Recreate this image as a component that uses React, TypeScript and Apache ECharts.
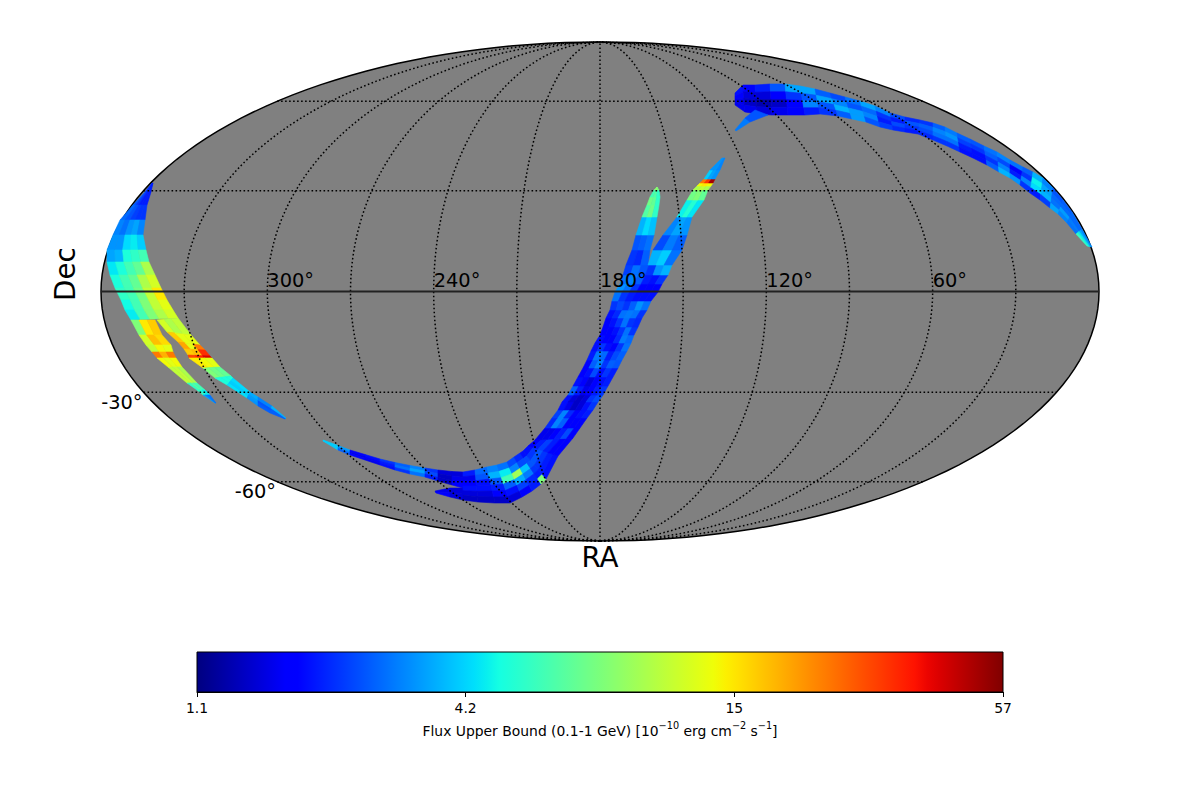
import React, { useEffect, useRef } from "react";
import * as echarts from "echarts";

const FONT = "DejaVu Sans";

// Ribbons: each section is [x1, y1, x2, y2, flux per band...], in map-frame units (picture frame of the sky map)
const northArc: number[][] = [
  [735, 93, 735, 105, 1.9, 1.7, 1.6, 1.6],
  [743, 85, 745, 112, 1.8, 1.5, 1.4, 1.6],
  [755, 85, 757, 114, 2.0, 1.5, 1.3, 1.5],
  [770, 84, 772, 115, 2.5, 1.8, 1.4, 1.6],
  [785, 84, 788, 115, 3.4, 2.2, 1.7, 1.8],
  [800, 86, 805, 115, 3.4, 2.5, 3.0, 2.0],
  [815, 89, 820, 114, 2.6, 3.4, 2.5, 2.2],
  [830, 93, 838, 116, 2.4, 3.0, 3.6, 2.6],
  [845, 97, 852, 119, 2.8, 2.5, 3.3, 3.3],
  [860, 101, 866, 122, 3.4, 2.7, 3.0, 2.5],
  [875, 106, 880, 127, 3.0, 2.2, 2.0, 2.3],
  [890, 113, 893, 130, 2.4, 2.0, 2.4, 2.1],
  [905, 117, 905, 132, 2.1, 2.5, 2.2, 2.0],
  [920, 120, 918, 134, 2.2, 2.6, 2.4, 2.1],
  [933, 123, 933, 140, 2.6, 3.0, 2.8, 2.2],
  [945, 127, 947, 146, 2.9, 3.2, 2.8, 2.2],
  [957, 133, 960, 152, 2.6, 2.3, 2.0, 1.9],
  [970, 139, 973, 158, 2.5, 2.2, 1.9, 1.9],
  [984, 146, 987, 165, 2.8, 2.6, 2.2, 2.6],
  [997, 152, 999, 172, 3.0, 2.4, 3.0, 3.6],
  [1010, 160, 1010, 178, 2.8, 1.8, 2.0, 3.2],
  [1023, 167, 1020, 185, 2.6, 2.2, 3.0, 2.2],
  [1033, 172, 1030, 193, 3.6, 4.6, 4.2, 2.0],
  [1043, 178, 1040, 200, 3.0, 3.4, 3.6, 2.3],
  [1053, 188, 1050, 208, 2.5, 2.7, 2.8, 3.4],
  [1063, 200, 1058, 214, 2.6, 2.7, 3.3, 3.0],
  [1072, 212, 1067, 223, 2.7, 2.7, 2.9, 2.8],
  [1082, 229, 1076, 234, 3.0, 3.5, 4.5, 5.5],
  [1092, 247, 1087, 246],
];
const northSpur: number[][] = [
  [735, 130, 736, 131, 2.9],
  [745, 118, 750, 122, 2.5],
  [755, 110, 768, 115],
];
const southTail: number[][] = [
  [323, 440, 323, 441, 4.0, 4.0, 4.0],
  [338, 445.5, 338, 450, 3.4, 3.0, 2.6],
  [350, 450, 350, 455, 1.7, 1.6, 1.7],
  [365, 454.5, 365, 460, 1.9, 1.7, 1.6],
  [380, 459, 380, 465, 2.2, 2.0, 1.9],
  [395, 462.5, 395, 470, 2.6, 2.8, 2.2],
  [410, 465.5, 410, 474, 3.0, 3.4, 2.8],
  [425, 468, 425, 477, 2.2, 2.4, 2.0],
  [438, 470, 438, 481, 1.5, 1.4, 1.4],
  [452, 471.5, 452, 485, 1.5, 1.6, 1.7],
  [463, 472, 463, 488],
];
const southProng: number[][] = [
  [435, 491, 436, 493, 1.6, 1.7],
  [450, 488, 450, 497, 1.5, 1.5],
  [463, 488, 463, 500],
];
const mainStrip: number[][] = [
  [463, 472, 463, 500, 2.0, 1.6, 1.7, 1.9, 1.5, 1.4],
  [475, 470, 478, 502, 2.7, 2.5, 1.9, 1.9, 1.5, 1.4],
  [487, 467, 495, 503, 3.0, 3.6, 2.5, 2.0, 1.7, 1.4],
  [497, 465, 510, 503, 2.8, 4.5, 6.0, 2.6, 1.9, 1.5],
  [507, 462, 522, 497, 2.4, 3.0, 9.5, 3.5, 2.3, 1.7],
  [514, 457, 532, 491, 2.1, 2.4, 3.8, 2.9, 2.1, 2.0],
  [520, 453, 541, 484, 1.9, 2.4, 2.5, 2.2, 2.0, 8.0],
  [523, 451, 546, 479, 1.9, 2.2, 2.5, 2.2, 2.0, 1.9],
  [528, 446, 558, 456, 1.7, 2.0, 2.3, 2.0, 1.7, 1.7],
  [535, 440, 573, 438, 1.6, 1.6, 1.8, 2.0, 2.4, 1.8],
  [545, 428, 580, 428, 2.1, 3.0, 2.6, 1.8, 1.7, 1.8],
  [552, 418, 587, 418, 2.3, 3.0, 2.1, 1.7, 1.9, 2.0],
  [558, 410, 593, 410, 1.9, 1.6, 1.4, 1.5, 1.9, 2.2],
  [562, 402, 598, 402, 1.9, 1.5, 1.4, 1.5, 2.2, 2.4],
  [568, 395, 603, 395, 2.6, 2.0, 1.6, 1.7, 2.0, 2.2],
  [573, 386, 608, 386, 1.9, 1.7, 1.5, 1.7, 1.9, 2.0],
  [578, 377, 613, 377, 1.8, 1.9, 2.4, 1.9, 2.2, 2.0],
  [583, 368, 618, 368, 1.8, 2.6, 3.0, 2.2, 2.6, 2.5],
  [587, 360, 622, 360, 2.0, 2.9, 2.7, 2.0, 2.4, 2.6],
  [591, 351, 627, 351, 1.9, 2.2, 1.9, 1.8, 2.2, 2.8],
  [595, 343, 631, 343, 1.9, 1.8, 1.8, 2.1, 2.9, 2.7],
  [600, 335, 634, 335, 1.8, 1.8, 1.9, 2.2, 2.8, 2.2],
  [603, 327, 638, 327, 1.8, 1.9, 2.2, 2.8, 2.2, 2.1],
  [606, 318, 642, 318, 1.9, 2.1, 2.8, 2.9, 2.8, 2.2],
  [610, 310, 647, 310, 2.2, 2.4, 2.2, 2.6, 3.2, 2.8],
  [612, 301, 651, 301, 2.8, 2.2, 2.0, 1.9, 1.9, 1.9],
  [615, 292, 658, 292, 3.2, 2.8, 2.2, 1.8, 1.7, 1.7],
  [620, 284, 662, 284, 2.8, 3.0, 2.6, 2.0, 1.9, 2.2],
  [623, 275, 668, 275, 2.3, 2.8, 2.5, 2.2, 3.2, 3.6],
  [626, 265, 672, 265],
];
const leftFork: number[][] = [
  [626, 265, 648, 265, 2.2, 2.1, 2.6],
  [632, 250, 650, 250, 2.5, 2.6, 2.8],
  [636, 235, 654, 235, 3.6, 4.2, 3.8],
  [642, 217, 657, 217, 6.5, 7.5, 5.5],
  [647, 205, 659, 205, 7.5, 7.0, 5.5],
  [650, 197, 660, 197, 6.0, 6.5, 5.5],
  [654, 190, 659, 190, 8.0, 9.0, 8.0],
  [657, 187, 657, 187],
];
const rightFork: number[][] = [
  [648, 265, 672, 265, 3.6, 4.0, 2.8],
  [653, 250, 682, 250, 2.4, 2.9, 2.6],
  [663, 235, 687, 235, 3.0, 3.4, 3.2],
  [677, 217, 692, 217, 4.6, 5.2, 4.4],
  [687, 200, 704, 200, 7.5, 8.0, 7.0],
  [693, 190, 708, 190, 10, 11, 10],
  [697, 186, 711, 186, 14, 15, 14],
  [700, 183, 713, 183, 24, 32, 50],
  [704, 179, 715, 179, 4.0, 3.4, 3.2],
  [710, 170, 720, 170, 3.2, 3.2, 3.0],
  [722, 158, 725, 158],
];
const westStrip: number[][] = [
  [152, 183, 153, 183, 2.2, 2.2, 2.1, 2.0, 2.0],
  [145, 192, 151, 192, 2.5, 2.2, 2.0, 2.0, 2.0],
  [133, 205, 147, 205, 2.7, 2.5, 2.3, 2.2, 2.2],
  [120, 220, 145, 220, 3.0, 2.8, 3.2, 3.4, 3.0],
  [113, 235, 143, 235, 3.2, 3.2, 4.2, 4.5, 4.0],
  [107, 250, 146, 250, 3.4, 3.6, 5.0, 5.5, 6.0],
  [107, 262, 149, 262, 4.4, 5.0, 6.0, 7.0, 10],
  [110, 275, 155, 275, 5.0, 6.0, 7.0, 10, 12],
  [115, 288, 161, 288, 5.5, 6.0, 7.5, 11, 15],
  [121, 300, 167, 300, 4.8, 6.0, 8.0, 11, 13],
  [125, 310, 173, 310, 4.5, 6.0, 8.0, 10, 12],
  [131, 320, 178, 318],
];
const westLowerProng: number[][] = [
  [131, 320, 155, 320, 8.0, 15, 17],
  [139, 335, 162, 335, 12, 18, 16],
  [146, 345, 171, 345, 11, 14, 13],
  [152, 352, 173, 352, 24, 19, 24],
  [157, 358, 176, 358, 14, 13, 14],
  [168, 367, 182, 367, 11, 11, 10],
  [187, 383, 197, 383, 5.5, 6.5, 6.0],
  [197, 390, 205, 390, 5.5, 5.0, 4.5],
  [203, 395, 210, 395, 3.4, 3.0, 2.8],
  [215, 403, 216, 403],
];
const westUpperProng: number[][] = [
  [157, 320, 178, 318, 12, 10, 11],
  [167, 332, 191, 335, 17, 13, 13],
  [178, 342, 200, 345, 20, 13, 24],
  [184, 349, 205, 350, 17, 18, 33],
  [188, 355, 210, 356, 30, 35, 42],
  [189, 358, 212, 358, 15, 14, 13],
  [203, 368, 220, 367, 8.0, 7.5, 7.0],
  [215, 378, 231, 376, 5.0, 5.0, 5.0],
  [227, 385, 233, 378, 4.3, 4.0, 4.2],
  [247, 398, 250, 392, 3.2, 3.3, 3.5],
  [258, 406, 258, 397, 2.6, 2.5, 3.0],
  [270, 413, 272, 406, 2.6, 2.6, 3.6],
  [285, 419, 286, 418],
];
const ribbons = [northArc, northSpur, southTail, southProng, mainStrip, leftFork, rightFork, westStrip, westLowerProng, westUpperProng];

const raTicks = [300, 240, 180, 120, 60];
const decTicks = [-30, -60];
const meridians = [30, 60, 90, 120, 150, 180, 210, 240, 270, 300, 330];
const parallels = [60, 30, -30, -60];
const colorbarTickLabels = ["1.1", "4.2", "15", "57"];
const fluxMin = 1.1;
const fluxMax = 57;

const CX = 600, CY = 291.5, RX = 499, RY = 249.5;

function project(ra: number, dec: number): [number, number] {
  const phi = (dec * Math.PI) / 180;
  let t = phi;
  if (Math.abs(dec) < 90) {
    for (let i = 0; i < 40; i++) {
      t -= (2 * t + Math.sin(2 * t) - Math.PI * Math.sin(phi)) / (2 + 2 * Math.cos(2 * t));
    }
  }
  return [CX + (RX * (180 - ra) * Math.cos(t)) / 180, CY - RY * Math.sin(t)];
}

function seg(stops: number[][], f: number) {
  for (let i = 1; i < stops.length; i++) {
    if (f <= stops[i][0]) {
      const [a, b] = [stops[i - 1], stops[i]];
      return a[1] + ((b[1] - a[1]) * (f - a[0])) / (b[0] - a[0]);
    }
  }
  return stops[stops.length - 1][1];
}
function jet(f0: number) {
  const f = Math.max(0, Math.min(1, f0));
  const r = seg([[0, 0], [0.35, 0], [0.66, 1], [0.89, 1], [1, 0.5]], f);
  const g = seg([[0, 0], [0.125, 0], [0.375, 1], [0.64, 1], [0.91, 0], [1, 0]], f);
  const b = seg([[0, 0.5], [0.11, 1], [0.34, 1], [0.65, 0], [1, 0]], f);
  return `rgb(${Math.round(r * 255)},${Math.round(g * 255)},${Math.round(b * 255)})`;
}
const fluxColor = (v: number) => jet(Math.log(v / fluxMin) / Math.log(fluxMax / fluxMin));

function buildCells() {
  const cells: number[][] = [];
  for (const r of ribbons) {
    for (let i = 0; i + 1 < r.length; i++) {
      const a = r[i], b = r[i + 1];
      const vals = a.slice(4);
      const n = vals.length;
      vals.forEach((v, j) => {
        const lerp = (s: number[], t: number) => [s[0] + (s[2] - s[0]) * t, s[1] + (s[3] - s[1]) * t];
        const p0 = lerp(a, j / n), p1 = lerp(a, (j + 1) / n), p2 = lerp(b, (j + 1) / n), p3 = lerp(b, j / n);
        cells.push([...p0, ...p1, ...p2, ...p3, v]);
      });
    }
  }
  return cells;
}

function buildGraticule() {
  const lines: { pts: [number, number][]; solid: boolean }[] = [];
  for (const ra of meridians) {
    const pts: [number, number][] = [];
    for (let d = -90; d <= 90; d += 2) pts.push(project(ra, d));
    lines.push({ pts, solid: false });
  }
  for (const d of parallels) lines.push({ pts: [project(360, d), project(0, d)], solid: false });
  lines.push({ pts: [project(360, 0), project(0, 0)], solid: true });
  return lines;
}

function buildOutline() {
  const pts: [number, number][] = [];
  for (let i = 0; i <= 180; i++) {
    const a = (i / 180) * 2 * Math.PI;
    pts.push([CX + RX * Math.cos(a), CY + RY * Math.sin(a)]);
  }
  return pts;
}

export default function App() {
  const ref = useRef<HTMLDivElement>(null);
  useEffect(() => {
    const chart = echarts.init(ref.current!, null, { renderer: "svg" });
    const outline = buildOutline();
    const graticule = buildGraticule();
    const cells = buildCells();
    const stops = Array.from({ length: 65 }, (_, i) => ({ offset: i / 64, color: jet(i / 64) }));

    const labelData = [
      ...raTicks.map((ra) => [...project(ra, 0), 0, ra]),
      ...decTicks.map((d) => [...project(360, d), 1, d]),
    ];

    chart.setOption({
      animation: false,
      backgroundColor: "#ffffff",
      grid: [
        { left: 101, top: 42, width: 998, height: 499, show: false },
        { left: 197, top: 652, width: 806, height: 40, show: true, borderColor: "#000", borderWidth: 1, z: 5 },
      ],
      xAxis: [
        { type: "value", gridIndex: 0, min: 101, max: 1099, show: false },
        {
          type: "value",
          gridIndex: 1,
          min: 0,
          max: 3,
          interval: 1,
          splitLine: { show: false },
          axisLine: { show: true, lineStyle: { color: "#000", width: 1 } },
          axisTick: { show: true, length: 5, lineStyle: { color: "#000", width: 1 } },
          axisLabel: {
            fontFamily: FONT,
            fontSize: 13.9,
            color: "#000",
            margin: 9,
            formatter: (v: number) => colorbarTickLabels[Math.round(v)] ?? "",
          },
          name: "{n|Flux Upper Bound (0.1-1 GeV) [10}{s|−10}{n| erg cm}{s|−2}{n| s}{s|−1}{n|]}",
          nameLocation: "middle",
          nameGap: 28,
          nameTextStyle: {
            rich: {
              n: { fontFamily: FONT, fontSize: 13.9, color: "#000", lineHeight: 18, verticalAlign: "bottom" },
              s: { fontFamily: FONT, fontSize: 9.7, color: "#000", lineHeight: 18, verticalAlign: "top" },
            },
          },
        },
      ],
      yAxis: [
        { type: "value", gridIndex: 0, min: 42, max: 541, inverse: true, show: false },
        { type: "value", gridIndex: 1, min: 0, max: 1, show: false },
      ],
      graphic: [
        { type: "text", x: 600, y: 557, style: { text: "RA", fontFamily: FONT, fontSize: 27.8, fill: "#000", align: "center", verticalAlign: "middle" } },
        { type: "text", x: 65, y: 274, rotation: Math.PI / 2, style: { text: "Dec", fontFamily: FONT, fontSize: 27.8, fill: "#000", align: "center", verticalAlign: "middle" } },
      ],
      series: [
        {
          type: "custom",
          name: "sky",
          z: 1,
          silent: true,
          clip: false,
          xAxisIndex: 0,
          yAxisIndex: 0,
          coordinateSystem: "cartesian2d",
          data: [[CX, CY]],
          renderItem: (_: any, api: any) => ({
            type: "polygon",
            shape: { points: outline.map((p) => api.coord(p)) },
            style: { fill: "#808080", stroke: "#000", lineWidth: 1.5 },
          }),
        },
        {
          type: "custom",
          name: "flux",
          z: 2,
          silent: true,
          clip: false,
          xAxisIndex: 0,
          yAxisIndex: 0,
          encode: { x: 0, y: 1 },
          data: cells,
          renderItem: (_: any, api: any) => {
            const pts = [0, 2, 4, 6].map((k) => api.coord([api.value(k), api.value(k + 1)]));
            const c = fluxColor(api.value(8));
            return { type: "polygon", shape: { points: pts }, style: { fill: c, stroke: c, lineWidth: 0.6 } };
          },
        },
        {
          type: "custom",
          name: "graticule",
          z: 3,
          silent: true,
          clip: false,
          xAxisIndex: 0,
          yAxisIndex: 0,
          encode: { x: 0, y: 1 },
          data: graticule.map((g, i) => [g.pts[0][0], g.pts[0][1], i]),
          renderItem: (_: any, api: any) => {
            const g = graticule[api.value(2)];
            return {
              type: "polyline",
              shape: { points: g.pts.map((p) => api.coord(p)) },
              style: g.solid
                ? { stroke: "#222", lineWidth: 2, fill: "none" }
                : { stroke: "#000", lineWidth: 1.5, lineDash: [1.6, 2.4], fill: "none" },
            };
          },
        },
        {
          type: "custom",
          name: "labels",
          z: 4,
          silent: true,
          clip: false,
          xAxisIndex: 0,
          yAxisIndex: 0,
          encode: { x: 0, y: 1 },
          data: labelData,
          renderItem: (_: any, api: any) => {
            const [x, y] = api.coord([api.value(0), api.value(1)]);
            const isDec = api.value(2) === 1;
            const tick = api.value(3);
            return {
              type: "text",
              style: isDec
                ? { text: `${tick}°`, x: x - 1, y: y + 10, fontFamily: FONT, fontSize: 19.4, fill: "#000", align: "right", verticalAlign: "middle" }
                : { text: `${tick}°`, x, y: y - 11, fontFamily: FONT, fontSize: 19.4, fill: "#000", align: "left", verticalAlign: "middle" },
            };
          },
        },
        {
          type: "custom",
          name: "colorbar",
          z: 2,
          silent: true,
          xAxisIndex: 1,
          yAxisIndex: 1,
          encode: { x: 0 },
          data: [[0, 3]],
          renderItem: (_: any, api: any) => {
            const a = api.coord([api.value(0), 0]);
            const b = api.coord([api.value(1), 1]);
            return {
              type: "rect",
              shape: { x: a[0], y: b[1], width: b[0] - a[0], height: a[1] - b[1] },
              style: { fill: new echarts.graphic.LinearGradient(0, 0, 1, 0, stops) },
            };
          },
        },
      ],
    });
    return () => chart.dispose();
  }, []);
  return <div ref={ref} style={{ position: "absolute", left: 0, top: 0, width: 1200, height: 800 }} />;
}
